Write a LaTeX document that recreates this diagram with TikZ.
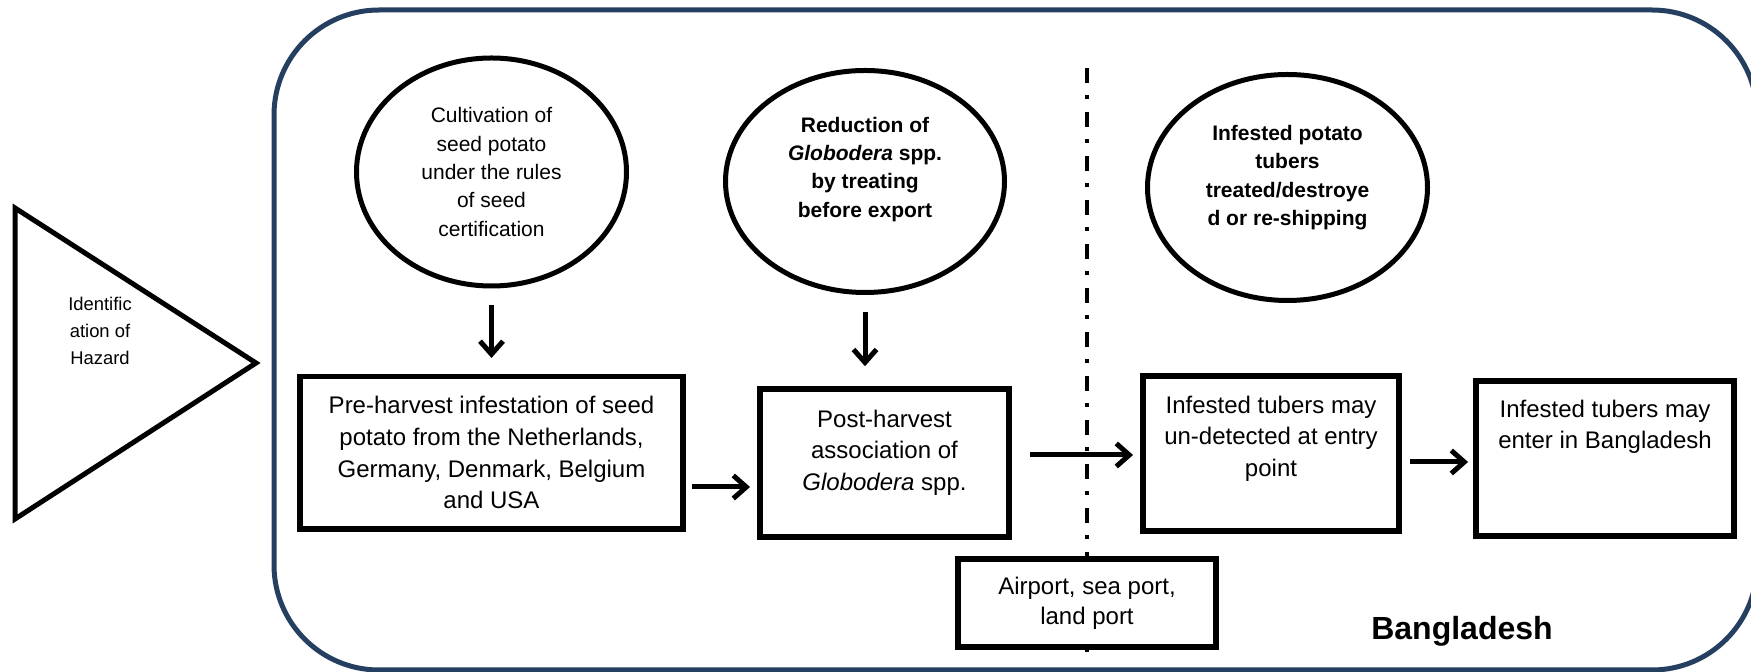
\documentclass[tikz,border=0pt]{standalone}
\usepackage{fontspec}
\setmainfont{Liberation Sans}
\usetikzlibrary{arrows.meta,shapes.geometric}
\definecolor{navy}{HTML}{243F60}
\begin{document}
\begin{tikzpicture}[x=0.5pt,y=-0.5pt,
  boxnode/.style={draw, line width=2.75pt, rectangle, inner sep=0pt, align=center,
    font=\fontsize{12pt}{15.8pt}\selectfont},
  ellnode/.style={draw, line width=2.5pt, ellipse, inner sep=0pt, align=center,
    font=\fontsize{10.5pt}{14.2pt}\selectfont},
  arr/.style={line width=2.5pt, -{Straight Barb[length=6.5pt,width=11.5pt]}},
  dashdot/.style={line width=2pt, dash pattern=on 7.5pt off 6pt on 2pt off 6.5pt},
]
\useasboundingbox (0,0) rectangle (1751,672);
\clip (0,0) rectangle (1751,672);

% outer region
\draw[navy, line width=2.5pt, rounded corners=52.5pt] (274,10) rectangle (1757,670);

% hazard triangle
\coordinate (t1) at (15,208);
\coordinate (t2) at (15,519);
\coordinate (t3) at (256,363);
\draw[line width=2.5pt, line join=miter] (t1) -- (t2) -- (t3) -- cycle;
\node[align=center, font=\fontsize{9.2pt}{13.4pt}\selectfont] (haz) at (100,331)
  {Identific\\ation of\\Hazard};

% border line
\coordinate (dtop) at (1087,68);
\coordinate (dbot) at (1087,652);
\draw[dashdot] (dtop) -- (dbot);

% ellipses
\node[ellnode, minimum width=135pt, minimum height=114pt] (E1) at (491.5,172)
  {Cultivation of\\seed potato\\under the rules\\of seed\\certification};
\node[ellnode, minimum width=139.5pt, minimum height=111pt, font=\fontsize{10.5pt}{14.2pt}\selectfont\bfseries] (E2) at (865,181.5)
  {Reduction of\\\textit{Globodera} spp.\\by treating\\before export\\[0.3pt]\mbox{}};
\node[ellnode, minimum width=140pt, minimum height=113pt, font=\fontsize{10.5pt}{14.2pt}\selectfont\bfseries] (E3) at (1287.5,187.5)
  {Infested potato\\tubers\\treated/destroye\\d or re-shipping\\[-2.2pt]\mbox{}};

% boxes
\node[boxnode, minimum width=191.5pt, minimum height=76.25pt] (A) at (491.5,452.75)
  {Pre-harvest infestation of seed\\potato from the Netherlands,\\Germany, Denmark, Belgium\\and USA};
\node[boxnode, minimum width=124.5pt, minimum height=74pt] (B) at (884.5,463)
  {Post-harvest\\association of\\\textit{Globodera} spp.\\[-2.8pt]\mbox{}};
\node[boxnode, minimum width=128pt, minimum height=77.5pt] (C) at (1271,453.5)
  {Infested tubers may\\un-detected at entry\\point\\[1.7pt]\mbox{}};
\node[boxnode, minimum width=129pt, minimum height=77.5pt] (D) at (1605,458.5)
  {Infested tubers may\\enter in Bangladesh\\[18.2pt]\mbox{}};
\node[boxnode, fill=white, minimum width=129pt, minimum height=44pt, font=\fontsize{12pt}{15pt}\selectfont] (P) at (1087,603)
  {Airport, sea port,\\land port};

\node[font=\fontsize{16pt}{19pt}\selectfont\bfseries, anchor=base] (bd) at (1462,640) {Bangladesh};

% connectors
\coordinate (yAB) at (0,487);
\coordinate (yBC) at (0,455);
\coordinate (yCD) at (0,462);
\draw[arr, shorten <=8.25pt, shorten >=7.9pt] (E1.south) -- (A.north);
\draw[arr, shorten <=8.5pt, shorten >=10pt] (E2.south) -- (E2.south |- B.north);
\draw[arr, shorten <=3pt, shorten >=3.6pt] (A.east |- yAB) -- (B.west |- yAB);
\draw[arr, shorten <=9.1pt, shorten >=3.6pt] (B.east |- yBC) -- (C.west |- yBC);
\draw[arr, shorten <=4.1pt, shorten >=2.6pt] (C.east |- yCD) -- (D.west |- yCD);
\end{tikzpicture}
\end{document}
